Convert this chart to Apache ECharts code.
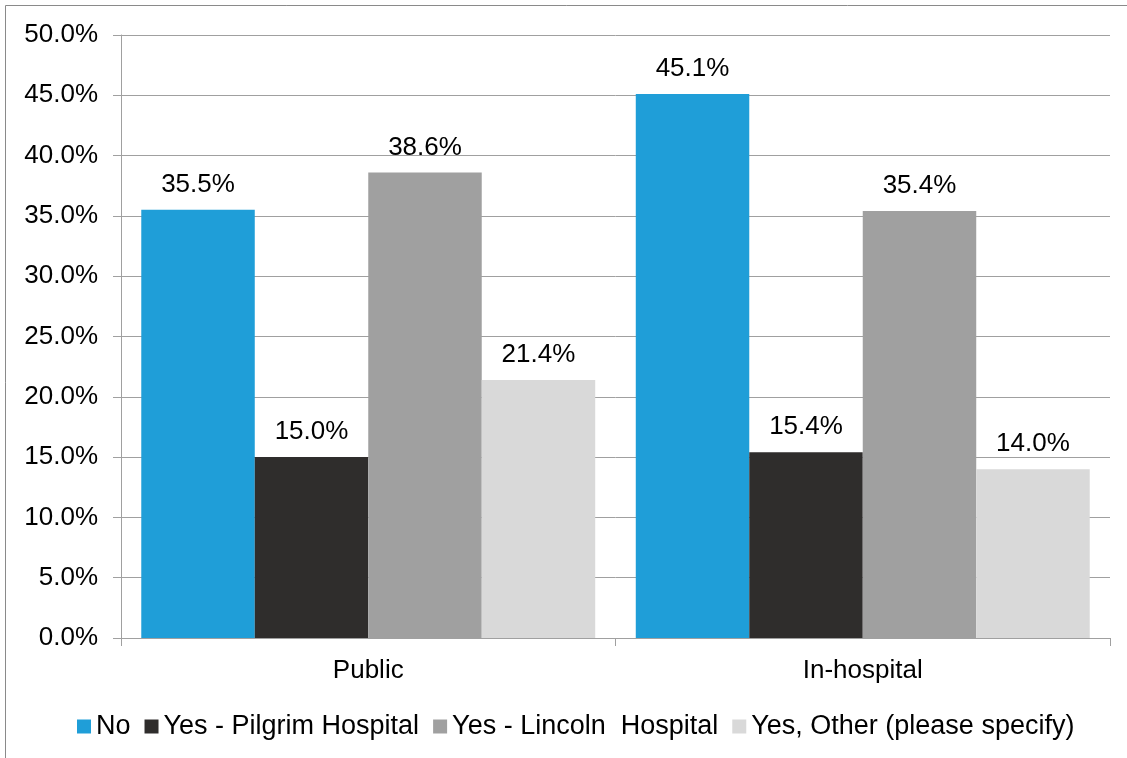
<!DOCTYPE html>
<html>
<head>
<meta charset="utf-8">
<script src="https://cdn.jsdelivr.net/npm/echarts@6/dist/echarts.min.js"></script>
<style>
  html, body { margin: 0; padding: 0; background: #fff; }
  #chart { width: 1127px; height: 758px; }
</style>
</head>
<body>
<div id="chart"></div>
<script>
// Categories, series names and values (percent)
const categories = ['Public', 'In-hospital'];
const seriesNames = ['No', 'Yes - Pilgrim Hospital', 'Yes - Lincoln  Hospital', 'Yes, Other (please specify)'];
const noValues = [35.5, 45.1];
const pilgrimValues = [15.0, 15.4];
const lincolnValues = [38.6, 35.4];
const otherValues = [21.4, 14.0];
const colors = ['#1F9ED8', '#2F2D2C', '#A0A0A0', '#D9D9D9'];

const font = 'Liberation Sans, Arial, sans-serif';
const valuesList = [noValues, pilgrimValues, lincolnValues, otherValues];

const chart = echarts.init(document.getElementById('chart'), null, { renderer: 'canvas' });

chart.setOption({
  backgroundColor: '#ffffff',
  animation: false,
  graphic: [{
    type: 'rect',
    shape: { x: 5.5, y: 5.5, width: 1200, height: 900 },
    style: { fill: 'none', stroke: '#8A8A8A', lineWidth: 1 },
    silent: true
  }],
  grid: { left: 121, right: 17, top: 35, bottom: 120 },
  legend: {
    left: 72,
    top: 708,
    itemWidth: 14,
    itemHeight: 14,
    itemGap: 14,
    icon: 'rect',
    textStyle: { fontFamily: font, fontSize: 27, color: '#000' },
    data: seriesNames
  },
  xAxis: {
    type: 'category',
    data: categories,
    axisLine: { lineStyle: { color: '#A0A0A0', width: 1 } },
    axisTick: { show: true, length: 8, lineStyle: { color: '#A0A0A0' } },
    axisLabel: { fontFamily: font, fontSize: 26, color: '#000', margin: 20 }
  },
  yAxis: {
    type: 'value',
    min: 0,
    max: 50,
    interval: 5,
    axisLine: { show: true, lineStyle: { color: '#A0A0A0', width: 1 } },
    axisTick: { show: true, length: 8, lineStyle: { color: '#A0A0A0' } },
    splitLine: { lineStyle: { color: '#A0A0A0', width: 1 } },
    axisLabel: {
      fontFamily: font, fontSize: 26, color: '#000', margin: 23,
      formatter: v => v.toFixed(1) + '%'
    }
  },
  series: seriesNames.map((name, i) => ({
    name,
    type: 'bar',
    data: valuesList[i],
    barGap: '0%',
    barCategoryGap: '8.2%',
    itemStyle: { color: colors[i] },
    label: {
      show: true,
      position: 'top',
      distance: 12,
      fontFamily: font,
      fontSize: 26,
      color: '#000',
      formatter: p => p.value.toFixed(1) + '%'
    }
  }))
});
</script>
</body>
</html>
